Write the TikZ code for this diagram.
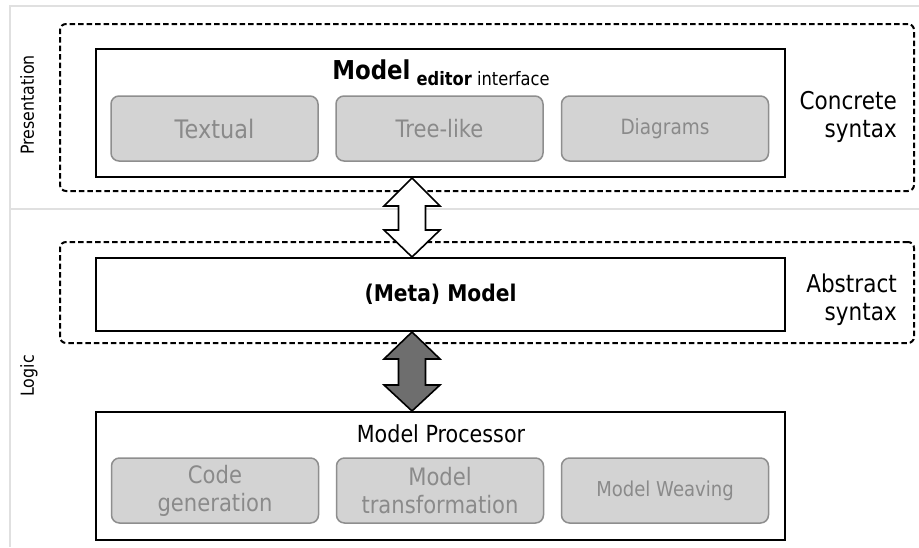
\documentclass[tikz,border=0pt]{standalone}
\usepackage{fontspec}
\setmainfont{DejaVu Sans}[FakeStretch=0.88]
\usetikzlibrary{calc}
\definecolor{bandline}{HTML}{E0E0E0}
\definecolor{subfill}{HTML}{D3D3D3}
\definecolor{subdraw}{HTML}{8E8E8E}
\definecolor{subtext}{HTML}{8A8A8A}
\definecolor{darkarrow}{HTML}{6E6E6E}
\tikzset{
 layerbox/.style={draw, dash pattern=on 5.5pt off 3pt, line width=2pt, rounded corners=6pt, inner sep=0pt, minimum width=854pt},
 mainbox/.style={draw, line width=2pt, inner sep=0pt, minimum width=689pt},
 subbox/.style={draw=subdraw, fill=subfill, line width=1.5pt, rounded corners=8pt, minimum width=207pt, minimum height=65pt, inner sep=0pt, text=subtext, align=center},
 fatarrow/.style={draw, line width=1.6pt, line join=miter},
 bandrule/.style={draw=bandline, line width=1.5pt},
 sidelabel/.style={rotate=90, anchor=base, inner sep=0pt, font=\fontsize{18}{20}\selectfont},
 synlabel/.style={anchor=east, align=right, inner sep=0pt, font=\fontsize{24.5}{28}\selectfont},
}
\begin{document}
\begin{tikzpicture}[x=1pt,y=-1pt]
\useasboundingbox (0,0) rectangle (919,547);
\fill[white] (0,0) rectangle (919,547);
% bands
\draw[bandrule] (919,6) -- (10,6) -- (10,547);
\draw[bandrule] (10,209) -- (919,209);
\node[sidelabel] (pres) at (34,105) {Presentation};
\node[sidelabel] (logic) at (34,376) {Logic};
% layer frames
\node[layerbox, minimum height=167pt] (concr) at (487,107.5) {};
\node[layerbox, minimum height=101pt] (abstr) at (487,292.5) {};
\node[synlabel] (cs) at (897,117) {Concrete\\syntax};
\node[synlabel] (as) at (897,300) {Abstract\\syntax};
% editor
\node[mainbox, minimum height=128pt] (ed) at (440.5,113) {};
\node[anchor=base, inner sep=0pt] (title) at (441,79) {{\bfseries\fontsize{26}{30}\selectfont Model}\hspace{6pt}\raisebox{-6pt}{\fontsize{18.5}{22}\selectfont\bfseries editor\mdseries\ interface}};
\node[subbox, font=\fontsize{25.5}{28}\selectfont] (txt) at (214.5,128.5) {Textual};
\node[subbox, font=\fontsize{24}{28}\selectfont] (tree) at (439.5,128.5) {Tree-like};
\node[subbox, font=\fontsize{21}{25}\selectfont] (diag) at (665,128.5) {Diagrams};
% meta model
\node[mainbox, minimum height=73pt, font=\bfseries\fontsize{23}{26}\selectfont] (meta) at (440.5,294.5) {(Meta) Model};
% processor
\node[mainbox, minimum height=128pt] (proc) at (440.5,476) {};
\node[anchor=base, inner sep=0pt, font=\fontsize{23.5}{27}\selectfont] (ptitle) at (441,442) {Model Processor};
\node[subbox, font=\fontsize{24}{28}\selectfont] (code) at (215,490.5) {Code\\generation};
\node[subbox, font=\fontsize{24}{28}\selectfont] (trans) at (440,490.5) {Model\\transformation};
\node[subbox, font=\fontsize{20.5}{25}\selectfont] (weave) at (665,490.5) {Model Weaving};
% arrows
\coordinate (t1) at ([xshift=-28.5pt]ed.south);
\coordinate (b1) at ([xshift=-28.5pt]meta.north);
\draw[fatarrow, fill=white] (t1) -- ($(t1)+(28,28)$) -- ($(t1)+(13.5,28)$) -- ($(b1)+(13.5,-27)$) -- ($(b1)+(28,-27)$) -- (b1) -- ($(b1)+(-28,-27)$) -- ($(b1)+(-13.5,-27)$) -- ($(t1)+(-13.5,28)$) -- ($(t1)+(-28,28)$) -- cycle;
\coordinate (t2) at ([xshift=-28.5pt]meta.south);
\coordinate (b2) at ([xshift=-28.5pt]proc.north);
\draw[fatarrow, fill=darkarrow] (t2) -- ($(t2)+(28,27)$) -- ($(t2)+(13.5,27)$) -- ($(b2)+(13.5,-26)$) -- ($(b2)+(28,-26)$) -- (b2) -- ($(b2)+(-28,-26)$) -- ($(b2)+(-13.5,-26)$) -- ($(t2)+(-13.5,27)$) -- ($(t2)+(-28,27)$) -- cycle;
\end{tikzpicture}
\end{document}
